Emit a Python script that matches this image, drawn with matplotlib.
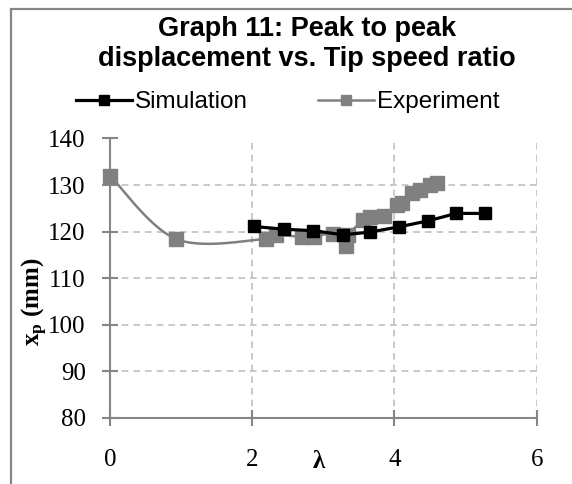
import numpy as np
import matplotlib
matplotlib.use("Agg")
import matplotlib.pyplot as plt
from matplotlib.patches import Rectangle
from matplotlib.lines import Line2D

# ---- data ----
sim_x = [2.02, 2.45, 2.85, 3.28, 3.66, 4.06, 4.47, 4.87, 5.28]
sim_y = [121.1, 120.5, 120.2, 119.3, 119.9, 121.0, 122.3, 123.9, 123.9]

exp_x = [0.0, 0.93, 2.19, 2.33, 2.70, 2.87, 3.14, 3.32, 3.35, 3.56, 3.66, 3.85,
         4.03, 4.10, 4.24, 4.36, 4.50, 4.60]
exp_y = [132.0, 118.4, 118.4, 119.2, 118.9, 118.9, 119.5, 116.9, 119.3, 122.4, 123.1, 123.3,
         125.7, 126.2, 128.2, 128.9, 130.0, 130.5]

x_ticks = [0, 2, 4, 6]
y_ticks = [80, 90, 100, 110, 120, 130, 140]

title_lines = ["Graph 11: Peak to peak", "displacement vs. Tip speed ratio"]
series_names = ["Simulation", "Experiment"]


def smooth(xs, ys, n=30):
    """Excel-like smoothed line (uniform Catmull-Rom Bezier through the points)."""
    P = np.column_stack([xs, ys]).astype(float)
    P = np.vstack([P[0], P, P[-1]])
    out = []
    t = np.linspace(0, 1, n)
    for i in range(1, len(P) - 2):
        p0, p3 = P[i], P[i + 1]
        c1 = p0 + (P[i + 1] - P[i - 1]) / 6.0
        c2 = p3 - (P[i + 2] - P[i]) / 6.0
        seg = ((1 - t) ** 3)[:, None] * p0 + (3 * (1 - t) ** 2 * t)[:, None] * c1 \
            + (3 * (1 - t) * t ** 2)[:, None] * c2 + (t ** 3)[:, None] * p3
        out.append(seg)
    out = np.vstack(out)
    return out[:, 0], out[:, 1]


plt.rcParams["mathtext.fontset"] = "custom"
plt.rcParams["mathtext.rm"] = "Liberation Serif:bold"
plt.rcParams["mathtext.bf"] = "Liberation Serif:bold"
plt.rcParams["mathtext.it"] = "Liberation Serif:bold"

W, H = 572, 484
fig = plt.figure(figsize=(W / 100, H / 100), dpi=100)

# outer chart border
fig.patches.append(Rectangle((11 / W, -0.1), 1.2, 1 - 9 / H + 0.1, transform=fig.transFigure,
                             fill=False, edgecolor="#868686", linewidth=1.6))

ax = fig.add_axes([110 / W, 1 - 417.7 / H, (536.7 - 110) / W, (417.7 - 138.5) / H])
ax.set_xlim(0, 6)
ax.set_ylim(80, 140)
ax.set_xticks(x_ticks)
ax.set_yticks(y_ticks)

grid_kw = dict(color="#c0c0c0", linestyle=(0, (4, 3)), linewidth=1.2)
ax.grid(True, **grid_kw)
ax.set_axisbelow(True)

for s in ["top", "right"]:
    ax.spines[s].set_visible(False)
for s in ["left", "bottom"]:
    ax.spines[s].set_color("#868686")
    ax.spines[s].set_linewidth(1.5)

ax.tick_params(axis="both", direction="inout", length=11, width=1.5, color="#868686",
               labelsize=18, labelcolor="black")
ax.tick_params(axis="x", pad=17)
ax.tick_params(axis="y", pad=12)
for lab in ax.get_xticklabels() + ax.get_yticklabels():
    lab.set_fontfamily("Liberation Serif")

gray = "#808080"
sx, sy = smooth(exp_x, exp_y)
ax.plot(sx, sy, color=gray, linewidth=1.8, zorder=3)
ax.plot(exp_x, exp_y, linestyle="none", marker="s", markersize=10, color=gray, zorder=4)
ax.plot(sim_x, sim_y, color="black", linewidth=2.3, marker="s", markersize=8, zorder=5)
for a in ax.lines:
    a.set_clip_on(False)

# legend
h1 = Line2D([], [], color="black", linewidth=2.3, marker="s", markersize=6.5)
h2 = Line2D([], [], color=gray, linewidth=1.8, marker="s", markersize=6.5)
leg = fig.legend([h1, h2], series_names, loc="center", bbox_to_anchor=(288 / W, 1 - 102 / H),
                 ncol=2, frameon=False, handlelength=2.3, handletextpad=0.12,
                 columnspacing=2.9, prop={"family": "Liberation Sans", "size": 17.5})

# title
fig.text(307 / W, 1 - 36 / H, title_lines[0], ha="center", va="baseline",
         family="Liberation Sans", weight="bold", size=19.5)
fig.text(307 / W, 1 - 66 / H, title_lines[1], ha="center", va="baseline",
         family="Liberation Sans", weight="bold", size=19.5)

# axis labels
fig.text(35 / W, 1 - 302 / H, r"$\mathrm{x_p}$ (mm)", rotation=90, ha="center", va="center",
         family="Liberation Serif", weight="bold", size=18)
fig.text(319 / W, 1 - 461 / H, "λ", ha="center", va="center",
         family="Liberation Serif", weight="bold", size=18)

fig.savefig("out.png", dpi=100)
